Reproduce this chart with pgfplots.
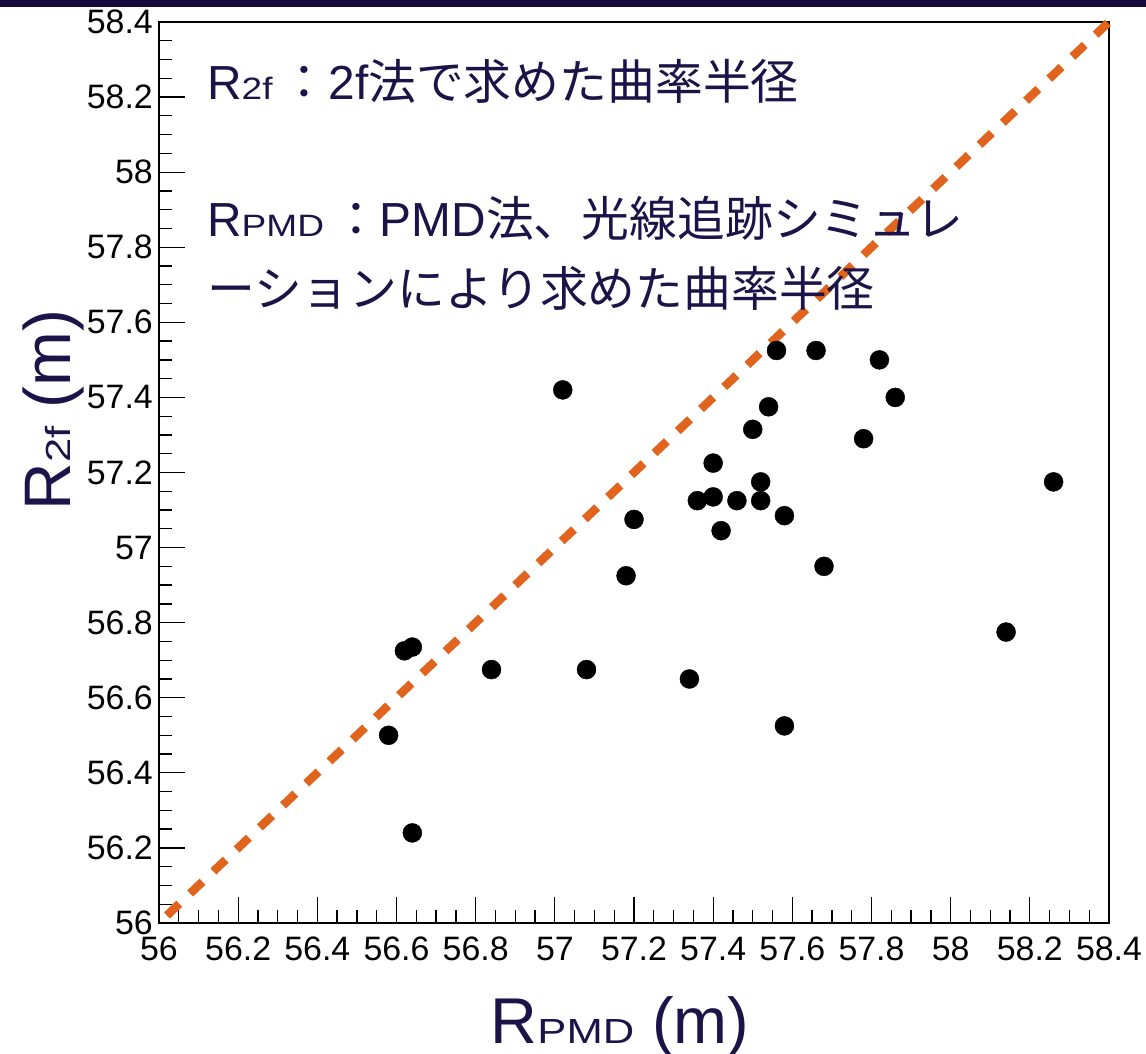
\documentclass[border=0pt]{standalone}
\usepackage{fontspec}
\setmainfont{Liberation Sans}
\newfontfamily\jp{Noto Sans CJK JP}
\usepackage{graphicx}
\usepackage{pgfplots}
\pgfplotsset{compat=1.18}
\definecolor{barnavy}{RGB}{22,10,60}
\definecolor{txtnavy}{RGB}{28,20,72}
\definecolor{dashorange}{RGB}{224,100,30}

\pgfplotstableread{
x y
56.58 56.50
56.62 56.725
56.64 56.735
56.64 56.24
56.84 56.675
57.08 56.675
57.34 56.65
57.02 57.42
57.56 57.525
57.66 57.525
57.82 57.50
57.86 57.40
57.54 57.375
57.50 57.315
57.78 57.29
57.40 57.225
57.52 57.175
57.36 57.125
57.40 57.135
57.46 57.125
57.52 57.125
57.58 57.085
57.20 57.075
57.42 57.045
57.18 56.925
57.68 56.95
58.26 57.175
58.14 56.775
57.58 56.525
}\pointdata

\begin{document}
\begin{tikzpicture}
\fill[barnavy] (0bp,1047bp) rectangle (1146bp,1054bp);
\begin{axis}[
  at={(159bp,131bp)}, anchor=south west,
  scale only axis, width=950bp, height=901bp,
  xmin=56, xmax=58.4, ymin=56, ymax=58.4,
  xtick={56,56.2,56.4,56.6,56.8,57,57.2,57.4,57.6,57.8,58,58.2,58.4},
  xticklabels={56,56.2,56.4,56.6,56.8,57,57.2,57.4,57.6,57.8,58,58.2,58.4},
  ytick={56,56.2,56.4,56.6,56.8,57,57.2,57.4,57.6,57.8,58,58.2,58.4},
  yticklabels={56,56.2,56.4,56.6,56.8,57,57.2,57.4,57.6,57.8,58,58.2,58.4},
  minor tick num=3,
  tick align=inside,
  xtick pos=bottom, ytick pos=left,
  major tick length=26bp, minor tick length=13bp,
  tick style={black, line width=1.3bp},
  axis line style={black, line width=1.8bp},
  ticklabel style={font=\fontsize{34}{34}\selectfont, inner sep=0pt},
  xticklabel style={anchor=north},
  yticklabel style={anchor=east},
  xticklabel shift=14bp, yticklabel shift=6bp,
  clip=false,
]
\addplot[dashorange, line width=8.5bp, dash pattern=on 17bp off 15bp] coordinates {(56.02,56.02) (58.4,58.4)};
\addplot[only marks, mark=*, mark size=9.5bp, mark options={fill=black, draw=black}] table[x=x, y=y] {\pointdata};
\end{axis}
\begin{scope}[txtnavy]
\node[anchor=base west, inner sep=0pt] at (207bp,954bp) {\fontsize{48}{48}\selectfont R{\fontsize{31}{31}\selectfont\scalebox{1.2}[1]{2f}}\,{\jp ：}2f{\jp 法で求めた曲率半径}};
\node[anchor=base west, inner sep=0pt] at (207bp,817bp) {\fontsize{48}{48}\selectfont R{\fontsize{31}{31}\selectfont\scalebox{1.2}[1]{PMD}}\,{\jp ：}PMD{\jp 法、光線追跡シミュレ}};
\node[anchor=base west, inner sep=0pt] at (207bp,747bp) {\fontsize{48}{48}\selectfont {\jp ーションにより求めた曲率半径}};
\node[anchor=base, inner sep=0pt, rotate=90] at (70bp,644bp) {\fontsize{66}{66}\selectfont R{\fontsize{35}{35}\selectfont\scalebox{1.25}[1]{2f}} (m)};
\node[anchor=base, inner sep=0pt] at (620bp,11bp) {\fontsize{65}{65}\selectfont R{\fontsize{35}{35}\selectfont\scalebox{1.25}[1]{PMD}} (m)};
\end{scope}
\pgfresetboundingbox
\useasboundingbox (0bp,0bp) rectangle (1146bp,1054bp);
\end{tikzpicture}
\end{document}
